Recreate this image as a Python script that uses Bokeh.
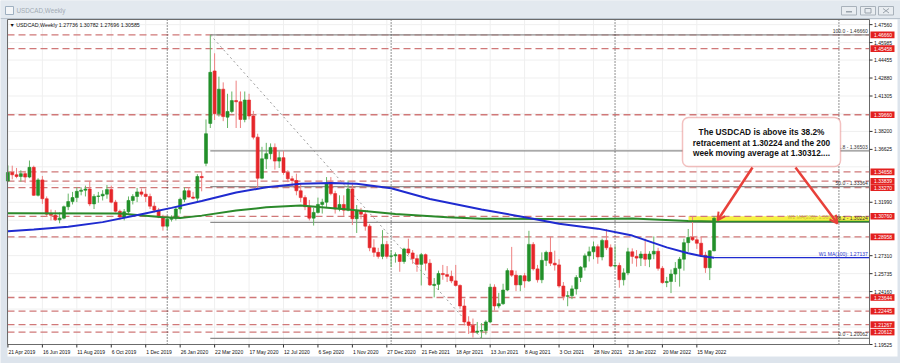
import numpy as np
from bokeh.plotting import figure
from bokeh.models import Range1d, Label, BoxAnnotation, Arrow, OpenHead, ColumnDataSource
from bokeh.core.properties import value
from bokeh.embed import file_html
from bokeh.resources import INLINE

# ---------------- data ----------------
symbol = "USDCAD"
timeframe = "Weekly"

date_labels = ["21 Apr 2019", "16 Jun 2019", "11 Aug 2019", "6 Oct 2019", "1 Dec 2019",
               "26 Jan 2020", "22 Mar 2020", "17 May 2020", "12 Jul 2020", "6 Sep 2020",
               "1 Nov 2020", "27 Dec 2020", "21 Feb 2021", "18 Apr 2021", "13 Jun 2021",
               "8 Aug 2021", "3 Oct 2021", "28 Nov 2021", "23 Jan 2022", "20 Mar 2022",
               "15 May 2022"]
date_label_weeks = [0, 8, 16, 24, 32, 40, 48, 56, 64, 72, 80, 88, 96, 104, 112,
                    120, 128, 136, 144, 152, 160]
year_start_weeks = [37, 89, 141, 193]

opens = [1.3385, 1.3460, 1.3440, 1.3425, 1.3450, 1.3420, 1.3505, 1.3260, 1.3395, 1.3230,
         1.3095, 1.3085, 1.3045, 1.3060, 1.3160, 1.3205, 1.3240, 1.3295, 1.3305, 1.3315,
         1.3185, 1.3250, 1.3255, 1.3270, 1.3310, 1.3200, 1.3120, 1.3070, 1.3115, 1.3215,
         1.3250, 1.3290, 1.3270, 1.3250, 1.3165, 1.3130, 1.3070, 1.2990, 1.3050, 1.3060,
         1.3140, 1.3225, 1.3300, 1.3245, 1.3235, 1.3425, 1.3540, 1.3890, 1.4350, 1.3975,
         1.4190, 1.3945, 1.3995, 1.4090, 1.4080, 1.3925, 1.4095, 1.3955, 1.3770, 1.3410,
         1.3580, 1.3625, 1.3680, 1.3560, 1.3590, 1.3460, 1.3405, 1.3390, 1.3300, 1.3240,
         1.3160, 1.3060, 1.3110, 1.3180, 1.3200, 1.3365, 1.3275, 1.3140, 1.3180, 1.3130,
         1.3315, 1.3055, 1.3125, 1.3095, 1.2990, 1.2800, 1.2760, 1.2725, 1.2830, 1.2725,
         1.2730, 1.2740, 1.2680, 1.2790, 1.2755, 1.2705, 1.2655, 1.2740, 1.2665, 1.2470,
         1.2480, 1.2575, 1.2565, 1.2550, 1.2510, 1.2470, 1.2290, 1.2150, 1.2120, 1.2060,
         1.2070, 1.2075, 1.2150, 1.2455, 1.2290, 1.2310, 1.2430, 1.2600, 1.2560, 1.2475,
         1.2555, 1.2510, 1.2830, 1.2615, 1.2520, 1.2690, 1.2760, 1.2665, 1.2650, 1.2465,
         1.2375, 1.2380, 1.2440, 1.2540, 1.2630, 1.2730, 1.2765, 1.2810, 1.2720, 1.2865,
         1.2800, 1.2640, 1.2645, 1.2520, 1.2580, 1.2765, 1.2725, 1.2710, 1.2745, 1.2700,
         1.2745, 1.2770, 1.2620, 1.2495, 1.2505, 1.2570, 1.2620, 1.2700, 1.2845, 1.2890,
         1.2870, 1.2840, 1.2735, 1.2625, 1.27736]
highs = [1.3522, 1.3520, 1.3500, 1.3480, 1.3475, 1.3565, 1.3520, 1.3410, 1.3430, 1.3250,
         1.3135, 1.3130, 1.3110, 1.3170, 1.3275, 1.3290, 1.3330, 1.3330, 1.3345, 1.3385,
         1.3270, 1.3290, 1.3305, 1.3350, 1.3345, 1.3220, 1.3135, 1.3140, 1.3250, 1.3270,
         1.3325, 1.3320, 1.3320, 1.3275, 1.3200, 1.3150, 1.3090, 1.3080, 1.3085, 1.3160,
         1.3240, 1.3330, 1.3330, 1.3290, 1.3445, 1.3470, 1.3925, 1.46660, 1.4505, 1.4300,
         1.4250, 1.4150, 1.4170, 1.4265, 1.4170, 1.4170, 1.4150, 1.4000, 1.3800, 1.3685,
         1.3720, 1.3715, 1.3715, 1.3645, 1.3650, 1.3480, 1.3430, 1.3450, 1.3360, 1.3260,
         1.3220, 1.3150, 1.3240, 1.3230, 1.3420, 1.3420, 1.3300, 1.3260, 1.3260, 1.3390,
         1.3370, 1.3175, 1.3150, 1.3130, 1.3010, 1.2875, 1.2800, 1.2955, 1.2860, 1.2780,
         1.2760, 1.2745, 1.2800, 1.2880, 1.2780, 1.2740, 1.2755, 1.2750, 1.2700, 1.2535,
         1.2600, 1.2650, 1.2640, 1.2600, 1.2650, 1.2480, 1.2350, 1.2200, 1.2180, 1.2150,
         1.2140, 1.2165, 1.2485, 1.2480, 1.2405, 1.2485, 1.2620, 1.2808, 1.2600, 1.2560,
         1.2580, 1.2949, 1.2850, 1.2650, 1.2760, 1.2775, 1.2896, 1.2775, 1.2700, 1.2500,
         1.2420, 1.2470, 1.2560, 1.2640, 1.2750, 1.2810, 1.2855, 1.2830, 1.2880, 1.2964,
         1.2830, 1.2815, 1.2670, 1.2620, 1.2800, 1.2795, 1.2780, 1.2770, 1.2880, 1.2770,
         1.2900, 1.2800, 1.2640, 1.2545, 1.2610, 1.2675, 1.2720, 1.2880, 1.2965, 1.3076,
         1.2905, 1.2895, 1.2765, 1.2780, 1.30782]
lows = [1.3375, 1.3400, 1.3410, 1.3380, 1.3370, 1.3410, 1.3255, 1.3250, 1.3185, 1.3070,
        1.3040, 1.3035, 1.3015, 1.3050, 1.3130, 1.3180, 1.3200, 1.3260, 1.3250, 1.3165,
        1.3140, 1.3195, 1.3215, 1.3230, 1.3190, 1.3110, 1.3045, 1.3040, 1.3100, 1.3180,
        1.3200, 1.3250, 1.3200, 1.3140, 1.3110, 1.3060, 1.2950, 1.2955, 1.3030, 1.3040,
        1.3100, 1.3200, 1.3240, 1.3225, 1.3200, 1.3295, 1.3515, 1.3850, 1.3920, 1.3950,
        1.3910, 1.3850, 1.3980, 1.3850, 1.3850, 1.3900, 1.3925, 1.3750, 1.3315, 1.3400,
        1.3490, 1.3575, 1.3485, 1.3500, 1.3440, 1.3375, 1.3330, 1.3260, 1.3200, 1.3130,
        1.3040, 1.2995, 1.3100, 1.3100, 1.3150, 1.3260, 1.3100, 1.3120, 1.3080, 1.3120,
        1.3000, 1.2930, 1.3050, 1.2950, 1.2770, 1.2720, 1.2705, 1.2700, 1.2705, 1.2630,
        1.2670, 1.2590, 1.2660, 1.2735, 1.2660, 1.2590, 1.2470, 1.2600, 1.2465, 1.2365,
        1.2430, 1.2520, 1.2500, 1.2490, 1.2460, 1.2265, 1.2120, 1.2045, 1.2013, 1.2045,
        1.20062, 1.2040, 1.2140, 1.2250, 1.2270, 1.2300, 1.2420, 1.2545, 1.2420, 1.2420,
        1.2450, 1.2500, 1.2600, 1.2495, 1.2490, 1.2640, 1.2640, 1.2600, 1.2450, 1.2340,
        1.2288, 1.2350, 1.2390, 1.2500, 1.2600, 1.2680, 1.2700, 1.2660, 1.2690, 1.2780,
        1.2630, 1.2620, 1.2450, 1.2470, 1.2560, 1.2660, 1.2635, 1.2640, 1.2640, 1.2630,
        1.2700, 1.2600, 1.2485, 1.2455, 1.2403, 1.2500, 1.2460, 1.2600, 1.2765, 1.2860,
        1.2790, 1.2720, 1.2580, 1.2517, 1.27696]
closes = [1.3460, 1.3440, 1.3425, 1.3450, 1.3420, 1.3505, 1.3260, 1.3395, 1.3230, 1.3095,
          1.3085, 1.3045, 1.3060, 1.3160, 1.3205, 1.3240, 1.3295, 1.3305, 1.3315, 1.3185,
          1.3250, 1.3255, 1.3270, 1.3310, 1.3200, 1.3120, 1.3070, 1.3115, 1.3215, 1.3250,
          1.3290, 1.3270, 1.3250, 1.3165, 1.3130, 1.3070, 1.2990, 1.3050, 1.3060, 1.3140,
          1.3225, 1.3300, 1.3245, 1.3235, 1.3425, 1.3415, 1.3800, 1.4338, 1.3975, 1.4190,
          1.3950, 1.3995, 1.4090, 1.4080, 1.3925, 1.4095, 1.3955, 1.3770, 1.3410, 1.3580,
          1.3625, 1.3680, 1.3560, 1.3590, 1.3460, 1.3405, 1.3390, 1.3300, 1.3240, 1.3160,
          1.3060, 1.3110, 1.3180, 1.3200, 1.3365, 1.3275, 1.3140, 1.3180, 1.3130, 1.3315,
          1.3055, 1.3125, 1.3095, 1.2990, 1.2800, 1.2760, 1.2725, 1.2830, 1.2725, 1.2730,
          1.2740, 1.2680, 1.2790, 1.2755, 1.2705, 1.2655, 1.2740, 1.2665, 1.2475, 1.2480,
          1.2575, 1.2565, 1.2550, 1.2510, 1.2470, 1.2290, 1.2150, 1.2120, 1.2060, 1.2070,
          1.2075, 1.2150, 1.2455, 1.2290, 1.2310, 1.2430, 1.2600, 1.2560, 1.2475, 1.2555,
          1.2510, 1.2830, 1.2615, 1.2520, 1.2690, 1.2760, 1.2665, 1.2650, 1.2465, 1.2375,
          1.2380, 1.2440, 1.2540, 1.2630, 1.2730, 1.2765, 1.2810, 1.2720, 1.2865, 1.2800,
          1.2640, 1.2645, 1.2520, 1.2580, 1.2765, 1.2725, 1.2710, 1.2745, 1.2700, 1.2745,
          1.2770, 1.2620, 1.2495, 1.2505, 1.2570, 1.2620, 1.2700, 1.2845, 1.2890, 1.2870,
          1.2840, 1.2735, 1.2625, 1.2774, 1.30585]

# moving averages, read at sample weeks
ma100_weeks = [0, 6, 14, 22, 31, 38, 45, 53, 60, 68, 75, 81, 89, 98, 110, 121, 128, 137,
               145, 153, 158, 161, 164]
ma100_vals = [1.2945, 1.2960, 1.2985, 1.3025, 1.3095, 1.3150, 1.3210, 1.3285, 1.3330,
              1.3362, 1.3368, 1.3362, 1.3322, 1.3228, 1.3135, 1.3062, 1.3010, 1.2968,
              1.2907, 1.2804, 1.2752, 1.2728, 1.27137]
ma200_weeks = [0, 26, 36, 40, 45, 53, 60, 68, 79, 90, 102, 110, 133, 145, 158, 164]
ma200_vals = [1.3103, 1.3100, 1.3068, 1.3062, 1.3082, 1.3126, 1.3155, 1.3170, 1.3135,
              1.3097, 1.3068, 1.3055, 1.3050, 1.3056, 1.3035, 1.30312]
ma100_text = "W1 MA(100): 1.27137"
ma200_text = "W1 MA(200): 1.30312"

fib_names = ["100.0", "61.8", "50.0", "38.2", "0.0"]
fib_levels = [1.46660, 1.36503, 1.33364, 1.30224, 1.20062]

sr_levels = [1.46660, 1.45458, 1.39660, 1.34658, 1.33839, 1.33270, 1.30760, 1.28958,
             1.23644, 1.22445, 1.21267, 1.20612]

axis_price_ticks = [1.47560, 1.45985, 1.44455, 1.42880, 1.41305, 1.38200, 1.36625,
                    1.31990, 1.27310, 1.25735, 1.24160, 1.19525]
grid_price_ticks = [1.47560, 1.45985, 1.44455, 1.42880, 1.41305, 1.39730, 1.38200, 1.36625,
                    1.35095, 1.33520, 1.31990, 1.30415, 1.28885, 1.27310, 1.25735, 1.24160,
                    1.22630, 1.21055, 1.19525]

note_lines = ["The USDCAD is above its 38.2%",
              "retracement at 1.30224 and the 200",
              "week moving average at 1.30312...."]

# ---------------- layout ----------------
W, H = 900, 363
PL, PR, PT, PB = 7, 869, 19, 344          # chart area edges (pixels)
X0, X1 = -0.1, 200.1                      # weeks shown in the chart area
Y0, Y1 = 1.19525, 1.4801                  # prices shown in the chart area
KX = (PR - PL) / (X1 - X0)
KY = (PB - PT) / (Y1 - Y0)


def dx(px):
    return X0 + (px - PL) / KX


def dy(py):
    return Y0 + (PB - py) / KY


GREEN = "#22902a"
RED = "#e5262a"
TAG_RED = "#e3201f"
CHROME = "#dde4ec"
SANS = "Liberation Sans"
SMALL = "5px"

p = figure(width=W, height=H, output_backend="svg", toolbar_location=None, title=None,
           x_range=Range1d(dx(0), dx(W)), y_range=Range1d(dy(H), dy(0)),
           x_axis_location=None, y_axis_location=None, min_border=0)
p.xgrid.visible = False
p.ygrid.visible = False
p.outline_line_color = None
p.background_fill_color = CHROME
p.border_fill_color = CHROME

# window chrome: white chart + scale area, title bar
p.quad(left=[dx(PL)], right=[dx(897)], bottom=[dy(356)], top=[dy(PT)],
       fill_color="white", line_color=None)
p.quad(left=[dx(0)], right=[dx(W)], bottom=[dy(18)], top=[dy(0)],
       fill_color="#e3e9ef", line_color=None)
p.segment(x0=[dx(0)], x1=[dx(W)], y0=[dy(18)], y1=[dy(18)], line_color="#b9c3cd", line_width=1)
p.quad(left=[dx(5)], right=[dx(13)], bottom=[dy(14)], top=[dy(6)],
       fill_color="#f4f6f8", line_color="#9fb0c0", line_width=1)
p.text(x=[dx(16)], y=[dy(10)], text=[f"{symbol},{timeframe}"], text_baseline="middle",
       text_font=value(SANS), text_font_size="6.3px", text_color="#a2abb4")
btn_l = [841, 860, 878]
p.quad(left=[dx(b) for b in btn_l], right=[dx(b + 15) for b in btn_l],
       bottom=[dy(14.5)] * 3, top=[dy(6)] * 3, fill_color="#e9edf1",
       line_color="#a9b2bb", line_width=1)
p.quad(left=[dx(845.5)], right=[dx(851.5)], bottom=[dy(12)], top=[dy(10.5)],
       fill_color="#9aa3ac", line_color=None)
p.quad(left=[dx(864.5)], right=[dx(870.5)], bottom=[dy(12.5)], top=[dy(8)],
       fill_color=None, line_color="#9aa3ac", line_width=1)
p.segment(x0=[dx(882.5), dx(882.5)], x1=[dx(888.5), dx(888.5)],
          y0=[dy(8), dy(12.5)], y1=[dy(12.5), dy(8)], line_color="#9aa3ac", line_width=1)

n = len(closes)
idx = list(range(n))
hi_i = int(np.argmax(highs))
lo_i = int(np.argmin(lows))
last_i = n - 1

# grid
p.segment(x0=date_label_weeks, x1=date_label_weeks, y0=[Y0] * len(date_label_weeks),
          y1=[Y1] * len(date_label_weeks), line_color="#efefef", line_width=1)
p.segment(x0=[X0] * len(grid_price_ticks), x1=[X1] * len(grid_price_ticks),
          y0=grid_price_ticks, y1=grid_price_ticks, line_color="#efefef", line_width=1)

# yellow zone between the 38.2% level and the 1.30760 level
p.quad(left=[dx(688)], right=[X1], bottom=[fib_levels[3]], top=[sr_levels[6]],
       fill_color="#f6f03c", fill_alpha=0.95, line_color=None)

# support / resistance levels
p.segment(x0=[X0] * len(sr_levels), x1=[X1] * len(sr_levels), y0=sr_levels, y1=sr_levels,
          line_color="#d07878", line_width=1.3, line_dash="7 4")

# fibonacci lines
p.segment(x0=[hi_i] * len(fib_levels), x1=[X1] * len(fib_levels),
          y0=fib_levels, y1=fib_levels, line_color="#8c8c8c", line_width=1.2)
p.line([hi_i, lo_i], [highs[hi_i], lows[lo_i]], line_color="#9a9a9a",
       line_dash="2 3", line_width=1)

# year separators
p.segment(x0=year_start_weeks, x1=year_start_weeks, y0=[Y0] * len(year_start_weeks),
          y1=[Y1] * len(year_start_weeks), line_color="#222222", line_dash="1 2", line_width=1)

# candles
src = ColumnDataSource(dict(
    x=idx, h=highs, l=lows,
    top=[max(o, c) for o, c in zip(opens, closes)],
    bottom=[min(o, c) for o, c in zip(opens, closes)],
    body=[GREEN if c >= o else RED for o, c in zip(opens, closes)],
    wick=["#66b566" if c >= o else "#ee8080" for o, c in zip(opens, closes)],
))
p.segment(x0="x", y0="h", x1="x", y1="l", line_color="wick", line_width=1, source=src)
p.vbar(x="x", width=0.7, top="top", bottom="bottom", fill_color="body",
       line_color="body", line_width=0.6, source=src)

# moving averages
p.line(ma200_weeks, ma200_vals, line_color="#2b8a2b", line_width=2)
p.line(ma100_weeks, ma100_vals, line_color="#1f2bd0", line_width=2)
p.segment(x0=[last_i], x1=[X1], y0=[ma100_vals[-1]], y1=[ma100_vals[-1]],
          line_color="#1f2bd0", line_width=1.3)
p.segment(x0=[last_i], x1=[X1], y0=[ma200_vals[-1]], y1=[ma200_vals[-1]],
          line_color="#2b8a2b", line_width=1.5)

# texts on the chart
p.text(x=[X1 - 0.4] * len(fib_levels), y=fib_levels,
       text=[f"{nm} - {lv:.5f}" for nm, lv in zip(fib_names, fib_levels)],
       text_align="right", text_baseline="bottom", text_font=value(SANS),
       text_font_size=SMALL, text_color="#333333", y_offset=-1)
p.text(x=[dx(836)], y=[ma200_vals[-1]], text=[ma200_text], text_align="right",
       text_baseline="bottom", text_font=value(SANS), text_font_size=SMALL,
       text_color="#c9c23a", y_offset=-1)
p.text(x=[X1 - 0.4], y=[ma100_vals[-1]], text=[ma100_text], text_align="right",
       text_baseline="bottom", text_font=value(SANS), text_font_size=SMALL,
       text_color="#2430c8", y_offset=-1)

# header line inside the chart
p.text(x=[dx(9)], y=[dy(24.5)],
       text=[f"\u25BC {symbol},{timeframe}  {opens[-1]:.5f} {highs[-1]:.5f} "
             f"{lows[-1]:.5f} {closes[-1]:.5f}"],
       text_baseline="middle", text_font=value(SANS), text_font_size="5.3px",
       text_color="#111111")

# chart border
p.quad(left=[X0], right=[X1], bottom=[Y0], top=[Y1], fill_color=None,
       line_color="#6b6b6b", line_width=1)

# price scale: ticks, labels, red tags
p.segment(x0=[X1] * len(axis_price_ticks), x1=[dx(PR + 3)] * len(axis_price_ticks),
          y0=axis_price_ticks, y1=axis_price_ticks, line_color="#333333", line_width=1)
p.text(x=[dx(PR + 4.5)] * len(axis_price_ticks), y=axis_price_ticks,
       text=[f"{t:.5f}" for t in axis_price_ticks], text_baseline="middle",
       text_font=value(SANS), text_font_size=SMALL, text_color="#111111")
p.quad(left=[dx(PR + 1)] * len(sr_levels), right=[dx(894)] * len(sr_levels),
       bottom=[lv - 3.3 / KY for lv in sr_levels], top=[lv + 3.3 / KY for lv in sr_levels],
       fill_color=TAG_RED, line_color=None)
p.text(x=[dx(PR + 4.5)] * len(sr_levels), y=sr_levels,
       text=[f"{lv:.5f}" for lv in sr_levels], text_baseline="middle",
       text_font=value(SANS), text_font_size=SMALL, text_color="white")

# time scale: ticks and labels
p.segment(x0=date_label_weeks, x1=date_label_weeks, y0=[Y0] * len(date_label_weeks),
          y1=[dy(PB + 3)] * len(date_label_weeks), line_color="#333333", line_width=1)
p.text(x=date_label_weeks, y=[dy(351.5)] * len(date_label_weeks), text=date_labels,
       x_offset=0.5, text_baseline="middle", text_font=value(SANS), text_font_size=SMALL,
       text_color="#111111")

# note box with arrows
p.add_layout(BoxAnnotation(left=dx(682), right=dx(840), top=dy(117), bottom=dy(166),
                           fill_color="white", fill_alpha=1, line_color="#d8322e",
                           line_width=1.5, border_radius=6))
for k, line in enumerate(note_lines):
    p.add_layout(Label(x=dx(761), y=dy(131.5 + 10.5 * k), text=line, text_align="center",
                       text_baseline="middle", text_font=SANS,
                       text_font_style="bold", text_font_size="8.3px", text_color="#111111"))
for (sx0, sy0, sx1, sy1) in [(752, 167, 717, 220), (795, 167, 837, 223)]:
    p.add_layout(Arrow(end=OpenHead(size=8, line_color="#e8403a", line_width=2),
                       x_start=dx(sx0), y_start=dy(sy0), x_end=dx(sx1), y_end=dy(sy1),
                       line_color="#e8403a", line_width=2.5))

open("out.html", "w").write(file_html(p, INLINE))
